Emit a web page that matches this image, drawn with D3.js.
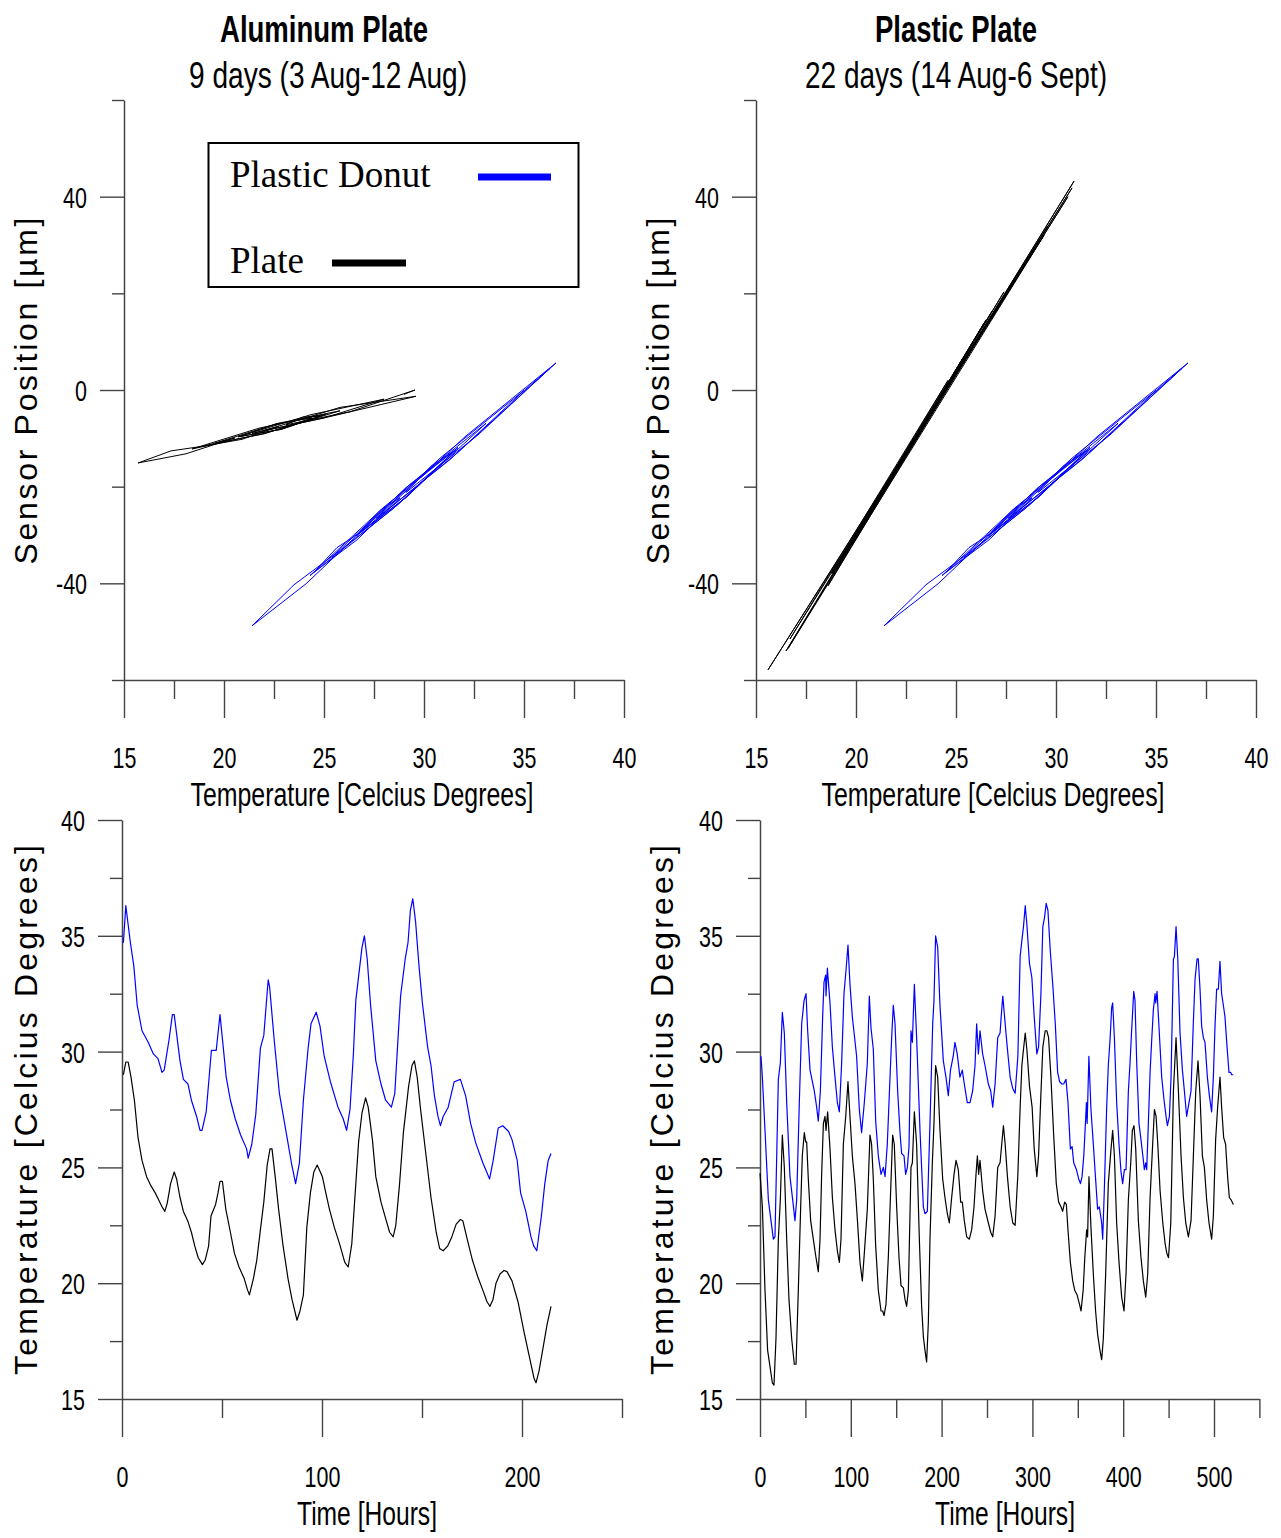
<!DOCTYPE html>
<html><head><meta charset="utf-8">
<script src="https://cdn.jsdelivr.net/npm/d3@7"></script>
<style>body{margin:0;background:#fff}</style>
</head><body><svg id="c" width="1281" height="1538"></svg>
<script>
// ---------- DATA ----------
const titles = ["Aluminum Plate", "Plastic Plate"];
const subtitles = ["9 days (3 Aug-12 Aug)", "22 days (14 Aug-6 Sept)"];
const legendLabels = ["Plastic Donut", "Plate"];

const posXTicks = [15, 17.5, 20, 22.5, 25, 27.5, 30, 32.5, 35, 37.5, 40];
const posXLabels = [15, 20, 25, 30, 35, 40];
const posYTicks = [-60, -40, -20, 0, 20, 40, 60];
const posYLabels = [-40, 0, 40];
const tempYTicks = [15, 17.5, 20, 22.5, 25, 27.5, 30, 32.5, 35, 37.5, 40];
const tempYLabels = [15, 20, 25, 30, 35, 40];
const alTimeTicks = [0, 50, 100, 150, 200, 250];
const alTimeLabels = [0, 100, 200];
const plTimeTicks = [0, 50, 100, 150, 200, 250, 300, 350, 400, 450, 500, 550];
const plTimeLabels = [0, 100, 200, 300, 400, 500];

// Sensor position [um] vs temperature [C] - Plastic Donut (same in both panels)
const donutLoop = [[34.7,-1.2],[36.3,4.5],[32.7,-9.3],[29.1,-21.2],[30.35,-15.8],[31.6,-12.3],[29.1,-22.2],[26.6,-30.2],[29.1,-20.2],[31.6,-12.3],[28.5,-24.4],[25.4,-34.5],[29.25,-19.7],[33.1,-6.9],[28.7,-23.7],[24.3,-38.4],[28.0,-24.2],[31.7,-11.9],[29.15,-22.1],[26.6,-30.2],[30.8,-14.1],[35.0,-0.1],[31.3,-14.4],[27.6,-26.6],[32.1,-9.5],[36.6,5.6],[31.7,-12.9],[26.8,-29.5],[27.8,-24.9],[28.8,-22.3],[26.65,-31.0],[24.5,-37.7],[25.65,-32.6],[26.8,-29.5],[24.1,-40.1],[21.4,-48.8],[23.5,-40.3],[25.6,-33.8]];
// Aluminum plate loop
const alPlateLoop = [[29.0,-0.9],[29.55,0.0],[26.3,-4.5],[23.1,-7.2],[23.95,-5.6],[24.8,-5.4],[22.8,-8.2],[20.8,-9.6],[22.6,-7.0],[24.4,-5.8],[21.98,-9.1],[19.55,-11.0],[22.7,-6.9],[25.8,-4.3],[22.1,-8.9],[18.4,-12.2],[21.75,-7.9],[25.1,-5.0],[22.9,-8.1],[20.7,-9.7],[24.35,-5.1],[28.0,-1.9],[25.0,-5.8],[22.0,-8.4],[25.8,-3.6],[29.6,-1.3],[25.5,-5.3],[21.4,-9.0],[22.75,-7.5],[20.9,-10.2],[19.0,-11.6],[20.55,-9.9],[18.1,-13.2],[15.7,-15.1],[17.35,-12.6],[19.0,-11.6]];
// Plastic plate loop
const plPlateLoop = [[24.75,2.0],[15.6,-57.9],[26.4,12.5],[16.5,-54.0],[26.5,14.5],[20.5,-27.0],[27.4,19.0],[20.9,-24.0],[28.7,28.0],[20.1,-29.0],[26.4,13.8],[18.6,-40.5],[26.4,12.8],[19.0,-37.0],[27.4,20.3],[16.6,-53.5],[29.4,32.0],[22.6,-12.5],[25.3,6.3],[21.9,-17.0],[25.5,7.0],[22.0,-16.3],[26.8,15.5],[22.5,-13.2],[30.8,41.8],[24.6,0.8],[30.9,43.2],[18.8,-38.0],[24.6,2.0],[16.7,-51.5],[26.6,14.0],[18.8,-37.6],[26.8,16.3],[19.4,-34.0],[27.5,20.0],[21.1,-22.5],[30.6,40.0],[22.0,-16.5],[29.6,34.0],[21.9,-17.2],[28.9,29.2],[23.4,-7.0]];

// Temperature [C] vs time [h] - Aluminum plate run
const alDonutTemp = [[0.7,34.7],[1.9,36.3],[4.2,34.7],[5.9,33.7],[7.6,32.0],[10.0,30.9],[13.1,30.4],[15.7,29.9],[18.0,29.7],[20.0,29.1],[21.1,29.2],[23.5,30.5],[25.2,31.6],[26.1,31.6],[29.0,29.6],[30.7,28.8],[33.0,28.6],[34.7,27.9],[37.3,27.2],[39.0,26.6],[40.0,26.6],[42.1,27.4],[44.7,30.05],[47.1,30.05],[49.0,31.6],[52.1,28.9],[54.2,27.9],[56.6,27.1],[59.3,26.4],[62.3,25.8],[63.1,25.4],[64.9,26.0],[66.9,27.3],[69.2,30.15],[70.9,30.7],[73.1,33.1],[73.8,32.8],[76.1,30.5],[78.7,28.2],[82.1,26.5],[84.7,25.2],[86.8,24.3],[88.7,25.2],[90.7,27.9],[93.0,30.1],[94.5,31.2],[97.1,31.7],[99.0,31.1],[101.1,29.8],[104.2,28.7],[108.0,27.6],[110.6,27.1],[112.3,26.6],[114.0,27.5],[115.7,29.9],[116.9,32.2],[118.3,33.25],[120.0,34.5],[121.2,35.0],[122.6,34.0],[124.3,32.0],[126.9,29.6],[129.5,28.6],[131.8,27.9],[134.7,27.6],[136.4,28.2],[138.1,30.7],[139.3,32.4],[141.6,34.0],[143.0,34.7],[144.2,36.1],[145.4,36.6],[146.8,35.6],[148.5,33.7],[150.2,32.1],[152.8,30.2],[154.5,29.4],[156.2,28.1],[158.0,27.2],[159.2,26.8],[160.6,27.2],[163.1,27.6],[166.1,28.7],[169.2,28.8],[171.8,28.1],[174.3,26.9],[176.9,26.05],[180.4,25.2],[183.8,24.5],[185.6,25.3],[188.1,26.7],[190.4,26.8],[193.3,26.55],[195.0,26.2],[197.6,25.3],[199.3,23.9],[201.9,23.1],[204.5,22.0],[205.9,21.6],[207.4,21.4],[209.7,22.9],[211.4,24.3],[213.1,25.3],[214.5,25.6]];
const alPlateTemp = [[0.7,29.0],[1.9,29.55],[3.1,29.55],[4.5,28.9],[6.2,27.9],[8.0,26.3],[10.0,25.3],[12.3,24.6],[14.5,24.2],[16.6,23.9],[18.3,23.6],[20.0,23.3],[21.4,23.1],[22.6,23.45],[24.3,24.3],[26.1,24.8],[27.3,24.5],[29.0,23.7],[30.7,23.1],[33.0,22.66],[34.7,22.2],[36.4,21.6],[38.1,21.1],[40.2,20.8],[41.6,21.0],[43.3,21.6],[44.5,22.9],[46.8,23.4],[48.0,23.9],[49.0,24.4],[50.2,24.4],[51.9,23.2],[54.2,22.2],[56.2,21.3],[58.5,20.7],[61.1,20.2],[62.8,19.7],[63.7,19.5],[65.7,20.2],[67.4,21.0],[69.2,22.3],[70.9,23.5],[72.6,25.1],[74.0,25.8],[75.0,25.8],[76.6,24.6],[78.3,23.2],[80.4,21.7],[83.0,20.2],[85.0,19.3],[87.5,18.4],[89.0,18.8],[90.7,19.5],[92.4,22.4],[94.2,23.9],[95.9,24.8],[97.6,25.1],[100.2,24.6],[101.9,23.9],[103.7,23.2],[106.2,22.4],[108.8,21.7],[111.4,20.9],[113.1,20.7],[114.9,21.7],[116.6,23.9],[118.3,26.1],[120.0,27.35],[121.8,28.0],[123.1,27.6],[125.2,26.2],[126.9,24.6],[129.5,23.5],[131.8,22.8],[133.8,22.2],[135.6,22.0],[136.9,22.5],[138.7,24.2],[140.7,26.5],[143.3,28.5],[145.0,29.4],[146.2,29.6],[147.6,28.9],[149.3,27.5],[151.9,25.6],[154.5,23.7],[157.1,22.2],[158.8,21.5],[160.6,21.4],[162.8,21.6],[164.9,22.0],[167.1,22.55],[169.2,22.75],[170.4,22.7],[172.6,21.9],[175.2,21.0],[177.8,20.3],[180.4,19.7],[182.5,19.2],[184.0,19.0],[185.5,19.3],[187.0,20.0],[189.0,20.4],[191.0,20.55],[192.5,20.5],[195.0,20.1],[198.0,19.2],[201.0,17.9],[204.0,16.7],[206.0,15.9],[207.0,15.7],[208.5,16.2],[210.5,17.2],[212.5,18.2],[214.5,19.0]];

// Temperature [C] vs time [h] - Plastic plate run
const plDonutTemp = [[1.1,29.8],[2.6,28.9],[5.5,26.6],[9.2,23.6],[12.1,22.7],[14.7,21.9],[16.5,22.0],[20.2,28.8],[22.4,29.5],[24.6,31.7],[26.8,30.8],[29.4,27.8],[33.0,24.6],[36.0,23.6],[38.5,22.7],[40.4,23.6],[43.3,27.8],[45.9,31.2],[48.5,32.2],[50.7,32.5],[52.5,30.9],[55.1,29.2],[59.8,28.3],[62.4,27.6],[64.2,27.0],[66.5,28.3],[69.0,31.5],[70.5,33.0],[72.3,33.3],[72.7,32.4],[74.2,33.6],[77.1,32.1],[79.7,30.2],[82.6,28.9],[85.2,27.8],[87.4,27.4],[89.9,29.5],[92.5,32.5],[94.7,33.5],[96.9,34.6],[99.1,32.9],[101.7,31.5],[106.4,29.8],[109.4,27.5],[111.9,26.5],[114.9,27.8],[118.2,29.5],[120.4,32.4],[122.3,31.0],[124.8,30.1],[127.4,27.0],[130.3,25.5],[133.3,24.7],[135.8,25.0],[137.7,24.6],[140.2,26.0],[143.2,28.9],[145.0,30.6],[146.8,32.0],[148.7,31.2],[151.6,28.3],[154.2,26.5],[156.0,25.6],[158.6,25.5],[160.4,24.7],[162.3,25.0],[164.1,25.9],[166.3,30.9],[167.8,30.4],[170.0,32.9],[172.5,30.6],[176.2,26.6],[179.9,23.3],[181.7,23.0],[184.3,23.1],[187.2,26.9],[190.2,31.2],[191.6,32.2],[193.4,35.0],[195.7,34.5],[198.2,32.0],[201.9,29.6],[204.8,28.9],[207.4,28.1],[209.8,29.2],[212.8,29.8],[214.7,30.4],[217.2,29.9],[220.2,28.9],[222.8,29.2],[225.0,28.6],[228.3,27.8],[231.3,27.8],[234.2,28.3],[236.8,29.4],[238.6,31.2],[240.5,29.9],[242.3,30.9],[245.2,29.9],[247.8,29.4],[251.5,28.6],[254.1,28.3],[256.3,27.6],[258.9,28.6],[261.8,30.6],[264.4,30.8],[265.6,31.5],[267.4,32.4],[270.0,31.2],[272.5,30.1],[275.5,28.9],[278.4,28.4],[281.0,28.2],[284.0,29.8],[286.5,34.1],[288.4,34.8],[290.2,35.4],[292.1,36.3],[293.9,35.5],[296.8,33.8],[299.4,33.2],[302.0,31.5],[304.9,29.9],[306.8,30.2],[309.3,32.4],[311.5,35.4],[313.4,35.8],[315.2,36.4],[317.1,36.1],[319.6,34.4],[322.6,32.8],[325.2,31.2],[327.8,29.1],[330.0,28.7],[332.6,28.6],[334.4,28.6],[337.0,28.8],[339.2,27.8],[341.8,25.8],[343.7,25.9],[345.5,25.2],[348.5,24.9],[351.0,24.5],[352.9,24.3],[354.7,24.6],[356.6,25.5],[358.4,26.9],[359.5,27.8],[360.3,26.9],[362.2,29.8],[364.5,27.5],[367.1,26.0],[369.6,24.5],[371.8,23.2],[373.7,23.3],[376.3,22.6],[377.4,21.9],[379.2,24.0],[381.8,27.6],[383.6,29.4],[385.5,30.5],[387.3,31.9],[388.4,32.1],[390.3,30.6],[392.8,27.8],[395.4,26.0],[397.6,24.8],[399.4,24.3],[401.3,24.9],[403.1,24.9],[405.7,28.3],[407.5,29.5],[409.4,31.0],[411.6,32.6],[413.0,32.2],[414.9,29.5],[417.4,26.9],[419.6,26.2],[422.2,25.3],[423.3,24.9],[424.8,25.2],[425.9,24.9],[427.7,26.9],[429.6,29.1],[431.4,30.5],[433.2,31.8],[435.1,32.5],[435.8,32.1],[437.3,32.6],[439.5,31.0],[442.4,28.9],[445.0,27.9],[447.2,27.2],[448.7,26.8],[450.9,27.2],[452.7,28.9],[455.3,34.0],[456.4,34.1],[458.2,35.4],[460.1,34.0],[462.6,30.8],[465.2,29.2],[467.4,28.3],[469.9,27.2],[472.5,27.8],[474.7,28.3],[477.2,31.2],[479.1,33.1],[481.3,34.0],[482.7,34.0],[484.6,32.7],[486.4,31.1],[488.3,30.6],[490.1,30.4],[492.7,28.9],[494.9,28.1],[497.4,27.4],[499.3,28.9],[501.1,31.1],[502.9,32.7],[504.8,32.7],[506.6,33.9],[508.4,32.5],[510.3,32.0],[512.1,31.5],[514.0,30.4],[516.5,29.1],[518.4,29.1],[519.5,29.0],[521.3,29.0]];
const plPlateTemp = [[0.0,24.75],[2.6,23.3],[5.5,19.7],[8.4,17.1],[11.0,16.4],[13.6,15.7],[15.4,15.6],[17.6,17.6],[20.2,21.9],[22.4,23.6],[24.6,26.4],[26.8,25.0],[29.4,21.9],[31.9,19.3],[34.9,17.6],[37.8,16.5],[39.7,16.5],[42.2,19.7],[44.8,23.3],[46.6,25.5],[48.8,26.5],[50.3,26.1],[51.4,26.1],[53.2,24.5],[55.8,22.7],[58.7,21.9],[61.7,21.1],[64.2,20.5],[66.1,21.9],[67.9,24.7],[69.8,26.9],[71.6,27.2],[72.7,26.6],[74.5,27.4],[77.1,25.8],[79.7,23.7],[82.6,22.3],[85.2,21.4],[87.4,20.9],[89.2,21.9],[91.8,26.0],[94.4,27.2],[96.9,28.7],[99.1,27.2],[101.7,25.5],[104.6,24.3],[107.5,22.6],[110.1,20.9],[112.7,20.1],[114.9,21.3],[118.2,23.2],[121.1,26.4],[122.9,26.0],[124.8,24.5],[127.4,21.6],[130.3,19.7],[133.3,18.8],[135.1,18.8],[136.6,18.6],[138.8,19.1],[141.3,21.1],[143.9,24.0],[146.1,26.4],[147.9,26.0],[150.5,23.3],[153.1,21.1],[155.3,19.9],[157.9,19.8],[159.7,19.3],[161.5,19.0],[163.4,19.7],[166.3,25.0],[167.8,25.2],[170.0,27.4],[172.5,26.0],[175.5,21.9],[178.0,19.0],[179.9,17.7],[181.7,17.1],[183.5,16.6],[185.4,18.3],[187.2,21.9],[189.8,25.2],[191.6,26.9],[193.4,29.4],[195.7,28.9],[198.2,26.6],[201.2,24.5],[203.7,23.7],[206.3,23.0],[208.5,22.6],[211.1,23.7],[213.7,24.7],[215.9,25.3],[218.4,24.9],[221.0,23.5],[222.8,23.5],[225.0,22.7],[227.6,22.0],[230.5,21.9],[233.1,22.3],[235.7,23.3],[237.9,24.7],[239.4,25.5],[240.8,24.7],[242.3,25.3],[245.2,24.0],[247.8,23.2],[251.5,22.6],[254.1,22.2],[256.3,22.0],[258.9,22.9],[261.8,25.0],[264.4,25.2],[266.2,26.0],[268.1,26.8],[270.0,26.0],[272.5,24.6],[275.5,23.3],[278.4,22.6],[281.0,22.5],[284.0,24.7],[286.5,27.6],[288.4,29.4],[290.2,30.1],[292.1,30.8],[293.9,30.1],[296.8,28.5],[299.7,27.6],[302.0,25.8],[304.9,24.6],[306.8,25.5],[309.3,28.1],[311.5,30.2],[314.1,30.9],[315.9,30.9],[317.8,30.6],[320.4,28.9],[323.3,26.5],[326.3,24.3],[328.9,23.5],[331.5,23.3],[333.3,23.1],[335.5,23.5],[337.4,23.4],[339.2,22.3],[341.8,20.9],[344.4,20.1],[346.6,19.7],[349.2,19.5],[351.8,19.1],[353.6,18.8],[355.9,19.7],[357.7,21.1],[359.7,22.3],[360.8,22.0],[362.3,24.6],[364.5,22.4],[367.1,20.4],[369.6,18.8],[371.8,17.8],[374.4,17.1],[376.3,16.7],[378.1,17.6],[380.7,20.4],[383.6,24.3],[386.6,25.8],[388.4,26.6],[390.3,25.5],[392.8,22.6],[395.4,20.9],[398.3,19.4],[400.9,18.8],[403.1,20.4],[405.7,23.6],[408.3,25.2],[410.1,26.6],[411.9,26.8],[413.8,25.8],[416.7,22.7],[419.6,21.1],[422.2,20.1],[424.8,19.4],[427.0,20.4],[429.6,23.7],[432.2,25.8],[434.4,27.5],[436.2,27.2],[438.1,26.0],[440.6,24.0],[443.6,22.6],[446.2,21.7],[448.0,21.3],[449.9,21.1],[452.4,22.6],[455.3,28.3],[458.2,30.6],[460.8,28.3],[463.7,25.5],[466.3,23.7],[468.9,22.6],[471.8,22.0],[474.7,22.7],[477.3,25.5],[479.9,28.3],[482.4,29.6],[484.6,28.1],[487.2,25.5],[489.4,25.0],[491.9,23.6],[494.5,22.6],[497.4,21.9],[499.3,22.9],[501.8,26.2],[504.0,27.6],[506.6,28.9],[508.4,27.6],[510.6,26.3],[512.8,26.0],[515.0,24.6],[516.9,23.7],[518.8,23.6],[521.3,23.4]];

// ---------- DRAWING ----------
const SANS = "'Liberation Sans', Arial, Helvetica, sans-serif";
const SERIF = "'Liberation Serif', 'Times New Roman', serif";
const BLUE = "#0000ff", BLACK = "#000000", AXIS = "#444";
const svg = d3.select("#c");
svg.append("rect").attr("width", 1281).attr("height", 1538).attr("fill", "#fff");

function narrow(sel, f) {
  sel.each(function () {
    const L = this.getComputedTextLength();
    if (L > 0) d3.select(this).attr("textLength", L * f).attr("lengthAdjust", "spacingAndGlyphs");
  });
}
function fitText(t, len) { t.attr("textLength", len).attr("lengthAdjust", "spacingAndGlyphs"); }

function panel(o) {
  const x = d3.scaleLinear().domain(o.xDom).range(o.xRange);
  const y = d3.scaleLinear().domain(o.yDom).range(o.yRange);
  const g = svg.append("g");

  const ya = g.append("g").attr("transform", `translate(${o.xRange[0]},0)`)
    .call(d3.axisLeft(y).tickValues(o.yTicks).tickSize(24).tickSizeOuter(0).tickPadding(13)
      .tickFormat(d => o.yLabels.includes(d) ? String(d) : ""));
  ya.selectAll(".tick line").attr("x2", d => o.yLabels.includes(d) ? -24 : -12);
  ya.selectAll(".tick text").attr("font-family", SANS).attr("font-size", 29).attr("fill", "#000").attr("dy", "0.36em");

  const xa = g.append("g").attr("transform", `translate(0,${o.yRange[0]})`)
    .call(d3.axisBottom(x).tickValues(o.xTicks).tickSize(38).tickSizeOuter(0)
      .tickFormat(d => o.xLabels.includes(d) ? String(d) : ""));
  xa.selectAll(".tick line").attr("y2", d => o.xLabels.includes(d) ? 38 : 19);
  xa.selectAll(".tick text").attr("font-family", SANS).attr("font-size", 29).attr("fill", "#000")
    .attr("y", 88).attr("dy", null);

  [ya, xa].forEach(a => {
    a.select(".domain").attr("stroke", AXIS).attr("stroke-width", 1.5);
    a.selectAll(".tick line").attr("stroke", AXIS).attr("stroke-width", 1.4);
    narrow(a.selectAll(".tick text"), 0.74);
  });

  const line = d3.line().x(d => x(d[0])).y(d => y(d[1]));
  o.series.forEach(s => {
    g.append("path").datum(s.data).attr("d", line).attr("fill", "none")
      .attr("stroke", s.color).attr("stroke-width", s.width).attr("stroke-linejoin", "round");
  });

  const xt = g.append("text").attr("x", o.xTitlePos[0]).attr("y", o.xTitlePos[1])
    .attr("text-anchor", "middle").attr("font-family", SANS).attr("font-size", 33).text(o.xTitle);
  fitText(xt, o.xTitleLen);
  g.append("text").attr("transform", `translate(${o.yTitlePos[0]},${o.yTitlePos[1]}) rotate(-90)`)
    .attr("text-anchor", "middle").attr("font-family", SANS).attr("font-size", 32)
    .attr("textLength", o.yTitleLen).attr("lengthAdjust", "spacing").text(o.yTitle);
}

[[324, 328, 0], [956, 956, 1]].forEach(([cx, cx2, i]) => {
  const t1 = svg.append("text").attr("x", cx).attr("y", 42).attr("text-anchor", "middle")
    .attr("font-family", SANS).attr("font-weight", "bold").attr("font-size", 37).text(titles[i]);
  fitText(t1, i === 0 ? 208 : 162);
  const t2 = svg.append("text").attr("x", cx2).attr("y", 88).attr("text-anchor", "middle")
    .attr("font-family", SANS).attr("font-size", 37).text(subtitles[i]);
  fitText(t2, i === 0 ? 278 : 302);
});

const posTitle = "Sensor Position [\u00b5m]";
const tempTitle = "Temperature [Celcius Degrees]";

panel({ xDom: [15, 40], xRange: [124, 624], yDom: [-60, 60], yRange: [680, 100],
  xTicks: posXTicks, xLabels: posXLabels, yTicks: posYTicks, yLabels: posYLabels,
  series: [{ data: alPlateLoop, color: BLACK, width: 1 }, { data: donutLoop, color: BLUE, width: 1 }],
  xTitle: tempTitle, xTitlePos: [362, 806], xTitleLen: 343,
  yTitle: posTitle, yTitlePos: [37, 391], yTitleLen: 347 });

panel({ xDom: [15, 40], xRange: [756, 1256], yDom: [-60, 60], yRange: [680, 100],
  xTicks: posXTicks, xLabels: posXLabels, yTicks: posYTicks, yLabels: posYLabels,
  series: [{ data: plPlateLoop, color: BLACK, width: 1 }, { data: donutLoop, color: BLUE, width: 1 }],
  xTitle: tempTitle, xTitlePos: [993, 806], xTitleLen: 343,
  yTitle: posTitle, yTitlePos: [669, 391], yTitleLen: 347 });

panel({ xDom: [0, 250], xRange: [122, 622], yDom: [15, 40], yRange: [1399, 820],
  xTicks: alTimeTicks, xLabels: alTimeLabels, yTicks: tempYTicks, yLabels: tempYLabels,
  series: [{ data: alDonutTemp, color: BLUE, width: 1.2 }, { data: alPlateTemp, color: BLACK, width: 1.2 }],
  xTitle: "Time [Hours]", xTitlePos: [367, 1525], xTitleLen: 140,
  yTitle: tempTitle, yTitlePos: [37, 1110], yTitleLen: 530 });

panel({ xDom: [0, 550], xRange: [760, 1259.4], yDom: [15, 40], yRange: [1399, 820],
  xTicks: plTimeTicks, xLabels: plTimeLabels, yTicks: tempYTicks, yLabels: tempYLabels,
  series: [{ data: plDonutTemp, color: BLUE, width: 1.2 }, { data: plPlateTemp, color: BLACK, width: 1.2 }],
  xTitle: "Time [Hours]", xTitlePos: [1005, 1525], xTitleLen: 140,
  yTitle: tempTitle, yTitlePos: [673, 1110], yTitleLen: 530 });

const lg = svg.append("g");
lg.append("rect").attr("x", 208.5).attr("y", 143).attr("width", 370).attr("height", 144)
  .attr("fill", "#fff").attr("stroke", "#000").attr("stroke-width", 2);
lg.append("text").attr("x", 230).attr("y", 187).attr("font-family", SERIF).attr("font-size", 37).text(legendLabels[0]);
lg.append("line").attr("x1", 478).attr("x2", 551).attr("y1", 177).attr("y2", 177).attr("stroke", BLUE).attr("stroke-width", 7);
lg.append("text").attr("x", 230).attr("y", 273).attr("font-family", SERIF).attr("font-size", 37).text(legendLabels[1]);
lg.append("line").attr("x1", 332).attr("x2", 406).attr("y1", 263).attr("y2", 263).attr("stroke", BLACK).attr("stroke-width", 7);
</script></body></html>
